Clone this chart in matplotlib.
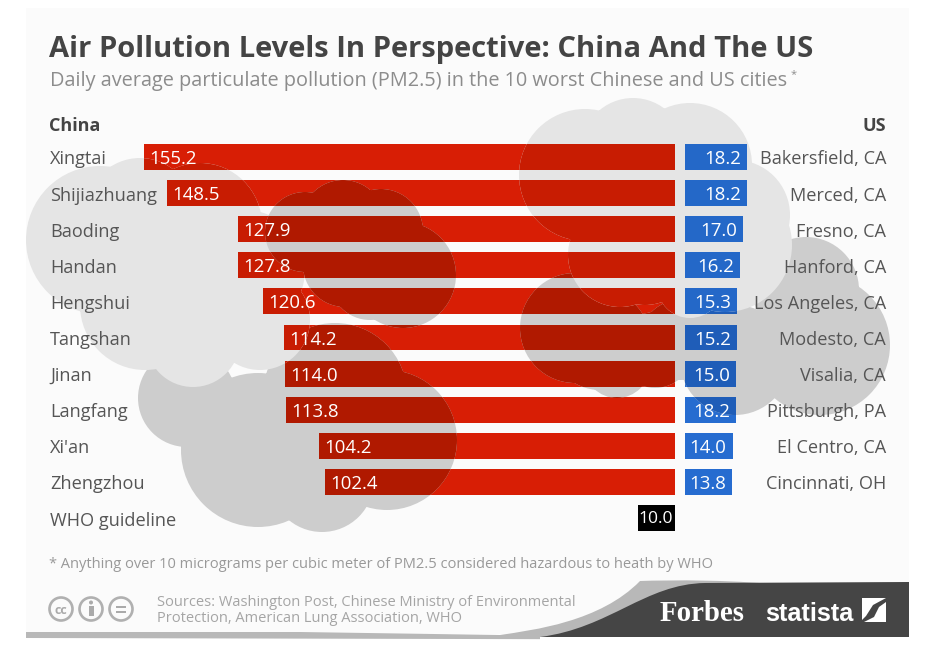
import matplotlib
matplotlib.use("Agg")
import matplotlib.pyplot as plt
from matplotlib.patches import PathPatch, Circle, Rectangle, Polygon
from matplotlib.path import Path
from matplotlib.transforms import Affine2D

china_cities = ["Xingtai", "Shijiazhuang", "Baoding", "Handan", "Hengshui",
                "Tangshan", "Jinan", "Langfang", "Xi'an", "Zhengzhou"]
china_values = [155.2, 148.5, 127.9, 127.8, 120.6, 114.2, 114.0, 113.8, 104.2, 102.4]

us_cities = ["Bakersfield, CA", "Merced, CA", "Fresno, CA", "Hanford, CA", "Los Angeles, CA",
             "Modesto, CA", "Visalia, CA", "Pittsburgh, PA", "El Centro, CA", "Cincinnati, OH"]
us_values = [18.2, 18.2, 17.0, 16.2, 15.3, 15.2, 15.0, 14.9, 14.0, 13.8]  # Pittsburgh bar is drawn short in the source
us_labels = ["18.2", "18.2", "17.0", "16.2", "15.3", "15.2", "15.0", "18.2", "14.0", "13.8"]

who_label = "10.0"
who_length = 10.8

W, H = 932, 650
ZERO_X = 675
PX_PER_UNIT = 3.42
GAP = 10 / PX_PER_UNIT
ROW0_Y = 157
ROW_H = 36.1
BAR_H = 0.72

RED = "#d81e05"
BLUE = "#266cd0"
TEXT = "#555555"
FONT = "Open Sans"

plt.rcParams["font.family"] = [FONT, "DejaVu Sans"]

fig = plt.figure(figsize=(W / 100, H / 100), dpi=100, facecolor="white")
ax = fig.add_axes([0, 0, 1, 1])
ax.set_xlim(-ZERO_X / PX_PER_UNIT, (W - ZERO_X) / PX_PER_UNIT)
ax.set_ylim((H - ROW0_Y) / ROW_H, -ROW0_Y / ROW_H)
ax.axis("off")

# everything that is not data goes through this pixel transform
px = Affine2D().scale(1 / W, -1 / H).translate(0, 1) + ax.transAxes

ax.add_patch(Rectangle((26, 8), 883, 626, transform=px, fc="#fbfbfb", ec="none", zorder=0))

rows = list(range(len(china_values)))


def draw_bars(red, blue, z, clip=None):
    left = ax.barh(rows, [-v for v in china_values], height=BAR_H, color=red, zorder=z)
    right = ax.barh(rows, us_values, left=GAP, height=BAR_H, color=blue, zorder=z)
    if clip is not None:
        for b in list(left) + list(right):
            b.set_clip_path(clip)


draw_bars(RED, BLUE, 2)
ax.barh([10], [-who_length], height=BAR_H, color="black", zorder=2)


# a cloud hides the clouds under it, so each one gets its own tinted copy of the bars
def cloud(circles, gray, red, blue, z):
    path = Path.make_compound_path(*[Path.circle((x, y), r) for x, y, r in circles])
    patch = PathPatch(path, transform=px, fc=gray, ec="none", zorder=z)
    ax.add_patch(patch)
    draw_bars(red, blue, z + 0.1, clip=patch)


DARK = ("#cdcdcd", "#b01900", "#1f5db8")
LIGHT = ("#e5e5e5", "#c81c02", "#2468c8")

cloud([(187, 398, 49), (258, 450, 77), (322, 480, 52), (387, 440, 70), (335, 395, 72)], *DARK, 3)
cloud([(575, 328, 55), (600, 340, 50), (617, 365, 33), (655, 350, 38), (735, 360, 55),
       (806, 290, 53), (820, 345, 70), (680, 340, 40)], *DARK, 3)
cloud([(100, 240, 74), (140, 212, 54), (200, 225, 62), (145, 305, 65), (193, 340, 47),
       (260, 320, 50), (245, 270, 60)], *LIGHT, 4)
cloud([(585, 175, 66), (633, 150, 52), (690, 165, 62), (735, 215, 55), (725, 245, 67),
       (690, 285, 33), (645, 255, 50), (620, 255, 52)], *LIGHT, 4)
cloud([(305, 232, 40), (343, 222, 42), (381, 231, 42), (403, 275, 53), (345, 265, 42),
       (370, 280, 40)], *DARK, 5)

for i in rows:
    y = ROW0_Y + ROW_H * i + 2.5
    ax.text(50, y, china_cities[i], transform=px, fontsize=13.1, color=TEXT, va="center", ha="left", zorder=7)
    ax.text(886, y, us_cities[i], transform=px, fontsize=13.1, color=TEXT, va="center", ha="right", zorder=7)
    ax.annotate(f"{china_values[i]:.1f}", (-china_values[i], i), xytext=(3.8, -1.5),
                textcoords="offset points", fontsize=13.4, color="white", va="center", ha="left", zorder=7)
    ax.annotate(us_labels[i], (GAP + us_values[i], i), xytext=(-4.5, -1.5),
                textcoords="offset points", fontsize=13.4, color="white", va="center", ha="right", zorder=7)

ax.text(50, 521, "WHO guideline", transform=px, fontsize=13.1, color=TEXT, va="center", zorder=7)
ax.annotate(who_label, (0, 10), xytext=(-1.5, -1), textcoords="offset points", fontsize=12.6,
            color="white", va="center", ha="right", zorder=7)

ax.text(49, 49, "Air Pollution Levels In Perspective: China And The US", transform=px,
        fontsize=21, fontweight="bold", color="#444444", va="center", zorder=7)
ax.text(50, 81, "Daily average particulate pollution (PM2.5) in the 10 worst Chinese and US cities",
        transform=px, fontsize=14.3, color="#8c8c8c", va="center", zorder=7)
ax.text(791, 75, "*", transform=px, fontsize=8, color="#8c8c8c", va="center", zorder=7)
ax.text(49, 126, "China", transform=px, fontsize=13, fontweight="bold", color="#444444", va="center", zorder=7)
ax.text(886, 126, "US", transform=px, fontsize=13, fontweight="bold", color="#444444", va="center", ha="right", zorder=7)

ax.text(49, 564, "* Anything over 10 micrograms per cubic meter of PM2.5 considered hazardous to heath by WHO",
        transform=px, fontsize=10.5, color="#999999", va="center", zorder=7)
ax.text(157, 602, "Sources: Washington Post, Chinese Ministry of Environmental", transform=px,
        fontsize=10.55, color="#a5a5a5", va="center", zorder=7)
ax.text(157, 619, "Protection, American Lung Association, WHO", transform=px,
        fontsize=10.55, color="#a5a5a5", va="center", zorder=7)

# cc icons
for x in [61, 91, 121]:
    ax.add_patch(Circle((x, 609), 11.5, transform=px, fc="none", ec="#b0b0b0", lw=1.9, zorder=7))
ax.text(61, 610, "cc", transform=px, fontsize=9, fontweight="bold", color="#aaaaaa", ha="center", va="center", zorder=7)
ax.add_patch(Circle((91, 602.5), 2, transform=px, fc="#aaaaaa", ec="none", zorder=7))
ax.add_patch(Rectangle((88.5, 606), 5, 10, transform=px, fc="#aaaaaa", ec="none", zorder=7))
ax.add_patch(Rectangle((116, 605.5), 10, 2, transform=px, fc="#aaaaaa", ec="none", zorder=7))
ax.add_patch(Rectangle((116, 610.5), 10, 2, transform=px, fc="#aaaaaa", ec="none", zorder=7))

# footer swoosh
C4, L = Path.CURVE4, Path.LINETO
gray = Path([(26, 632), (300, 632), (500, 635), (533, 630), (600, 622), (640, 581), (700, 579),
             (909, 578), (909, 640), (26, 638), (26, 632)],
            [Path.MOVETO, L, L, C4, C4, C4, C4, L, L, L, Path.CLOSEPOLY])
ax.add_patch(PathPatch(gray, transform=px, fc="#b8b8b8", ec="none", zorder=1))
dark = Path([(540, 637), (610, 628), (645, 584), (705, 583), (909, 582), (909, 637), (540, 637)],
            [Path.MOVETO, C4, C4, C4, L, L, Path.CLOSEPOLY])
ax.add_patch(PathPatch(dark, transform=px, fc="#454545", ec="none", zorder=2))
ax.add_patch(Rectangle((540, 637), 369, 5, transform=px, fc="white", ec="none", zorder=1.5))

ax.text(660, 621, "Forbes", transform=px, family="Liberation Serif", fontsize=20.8, fontweight="bold",
        color="white", va="baseline", zorder=7)
ax.text(765, 621, "statista", transform=px, family="Liberation Sans", fontsize=18.3, fontweight="bold",
        color="white", va="baseline", zorder=7)
ax.add_patch(Polygon([(862, 598), (886, 598), (873, 605), (866, 616), (862, 620)], transform=px,
                     fc="white", ec="none", zorder=7))
ax.add_patch(Polygon([(886, 602), (886, 622), (864, 622), (874, 617), (879, 607)], transform=px,
                     fc="white", ec="none", zorder=7))

fig.savefig("out.png", dpi=100)
